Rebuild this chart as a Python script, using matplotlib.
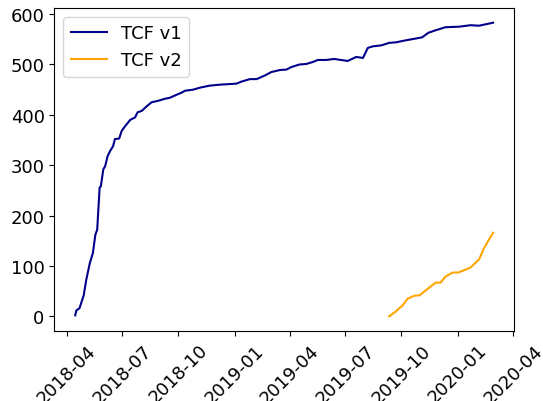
import matplotlib
matplotlib.use("Agg")
import matplotlib.pyplot as plt
import matplotlib.dates as mdates
import pandas as pd

v1_dates = ["2018-04-15", "2018-04-17", "2018-04-22", "2018-04-29", "2018-05-03", "2018-05-09",
            "2018-05-14", "2018-05-18", "2018-05-21", "2018-05-25", "2018-05-27", "2018-05-31",
            "2018-06-03", "2018-06-07", "2018-06-11", "2018-06-16", "2018-06-19", "2018-06-26",
            "2018-06-30", "2018-07-06", "2018-07-14", "2018-07-22", "2018-07-26", "2018-08-02",
            "2018-08-10", "2018-08-18", "2018-08-29", "2018-09-09", "2018-09-17", "2018-09-28",
            "2018-10-06", "2018-10-12", "2018-10-25", "2018-11-05", "2018-11-21", "2018-12-08",
            "2019-01-04", "2019-01-12", "2019-01-26", "2019-02-06", "2019-02-19", "2019-03-02",
            "2019-03-16", "2019-03-27", "2019-04-04", "2019-04-17", "2019-04-28", "2019-05-09",
            "2019-05-17", "2019-05-31", "2019-06-13", "2019-06-24", "2019-07-05", "2019-07-19",
            "2019-07-30", "2019-08-07", "2019-08-15", "2019-08-29", "2019-09-11", "2019-09-22",
            "2019-10-08", "2019-10-22", "2019-11-04", "2019-11-14", "2019-11-26", "2019-12-12",
            "2020-01-03", "2020-01-22", "2020-02-05", "2020-02-28"]
v1_values = [2, 12, 16, 42, 72, 106,
             126, 162, 172, 256, 258, 292,
             298, 318, 328, 338, 352, 353,
             368, 378, 390, 395, 405, 408,
             417, 425, 428, 432, 434, 440,
             444, 448, 450, 454, 458, 460,
             462, 466, 471, 471, 478, 485,
             489, 490, 495, 500, 501, 505,
             509, 509, 511, 509, 507, 515,
             513, 533, 536, 538, 543, 544,
             548, 551, 554, 563, 568, 574,
             575, 578, 577, 583]

v2_dates = ["2019-09-11", "2019-09-22", "2019-10-03", "2019-10-11", "2019-10-22", "2019-10-31",
            "2019-11-10", "2019-11-26", "2019-12-04", "2019-12-12", "2019-12-24", "2020-01-02",
            "2020-01-14", "2020-01-22", "2020-02-05", "2020-02-13", "2020-02-21", "2020-02-28"]
v2_values = [0, 10, 22, 35, 41, 42,
             52, 67, 67, 79, 87, 87,
             93, 97, 113, 135, 152, 166]

labels = ["TCF v1", "TCF v2"]
colors = ["darkblue", "orange"]

fig = plt.figure(figsize=(5.43, 4.02), dpi=100)
ax = fig.add_axes([0.1, 0.174, 0.8466, 0.8036])
ax.plot(pd.to_datetime(v1_dates), v1_values, color=colors[0], label=labels[0], lw=1.5)
ax.plot(pd.to_datetime(v2_dates), v2_values, color=colors[1], label=labels[1], lw=1.5)
ax.xaxis.set_major_locator(mdates.MonthLocator(bymonth=[1, 4, 7, 10]))
ax.xaxis.set_major_formatter(mdates.DateFormatter("%Y-%m"))
ax.tick_params(labelsize=13)
plt.setp(ax.get_xticklabels(), rotation=45, ha="center", rotation_mode="default")
ax.legend(loc="upper left", fontsize=13)
fig.savefig("out.png", dpi=100)
